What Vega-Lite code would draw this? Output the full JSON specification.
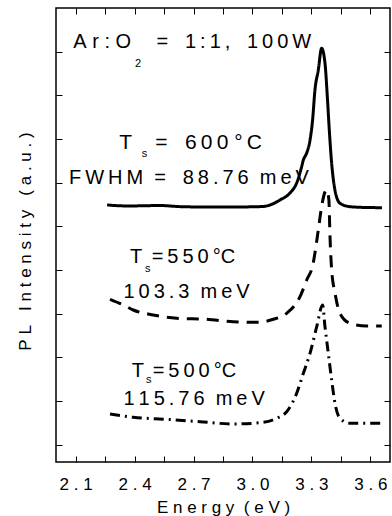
{
  "$schema": "https://vega.github.io/schema/vega-lite/v6.json",
  "width": 334,
  "height": 454,
  "autosize": {"type": "none"},
  "padding": {"left": 56, "top": 8, "right": 2, "bottom": 54},
  "background": "white",
  "config": {
    "font": "Liberation Sans",
    "view": {"stroke": "black", "strokeWidth": 1.5},
    "axis": {"domain": false, "grid": false, "tickColor": "black", "tickWidth": 1, "labelColor": "black", "titleColor": "black"}
  },
  "datasets": {
    "curves": [
      {"series": "600", "E": 2.26, "I": 5.49}, {"series": "600", "E": 2.32, "I": 5.47}, {"series": "600", "E": 2.377, "I": 5.465},
      {"series": "600", "E": 2.45, "I": 5.47}, {"series": "600", "E": 2.529, "I": 5.476}, {"series": "600", "E": 2.63, "I": 5.45},
      {"series": "600", "E": 2.733, "I": 5.442}, {"series": "600", "E": 2.84, "I": 5.44}, {"series": "600", "E": 2.936, "I": 5.442},
      {"series": "600", "E": 3.053, "I": 5.453}, {"series": "600", "E": 3.089, "I": 5.488}, {"series": "600", "E": 3.14, "I": 5.602},
      {"series": "600", "E": 3.191, "I": 5.763}, {"series": "600", "E": 3.225, "I": 5.992}, {"series": "600", "E": 3.25, "I": 6.358},
      {"series": "600", "E": 3.259, "I": 6.519}, {"series": "600", "E": 3.276, "I": 6.679}, {"series": "600", "E": 3.293, "I": 6.977},
      {"series": "600", "E": 3.306, "I": 7.435}, {"series": "600", "E": 3.318, "I": 8.122}, {"series": "600", "E": 3.335, "I": 8.58},
      {"series": "600", "E": 3.352, "I": 9.078}, {"series": "600", "E": 3.369, "I": 8.741}, {"series": "600", "E": 3.381, "I": 7.969},
      {"series": "600", "E": 3.391, "I": 7.206}, {"series": "600", "E": 3.403, "I": 6.444}, {"series": "600", "E": 3.42, "I": 5.826},
      {"series": "600", "E": 3.445, "I": 5.528}, {"series": "600", "E": 3.496, "I": 5.449}, {"series": "600", "E": 3.58, "I": 5.43},
      {"series": "600", "E": 3.659, "I": 5.426},

      {"series": "550", "E": 2.275, "I": 3.327}, {"series": "550", "E": 2.343, "I": 3.197}, {"series": "550", "E": 2.393, "I": 3.082},
      {"series": "550", "E": 2.495, "I": 2.968}, {"series": "550", "E": 2.614, "I": 2.893}, {"series": "550", "E": 2.767, "I": 2.869},
      {"series": "550", "E": 2.902, "I": 2.814}, {"series": "550", "E": 3.021, "I": 2.8}, {"series": "550", "E": 3.106, "I": 2.869},
      {"series": "550", "E": 3.174, "I": 3.007}, {"series": "550", "E": 3.242, "I": 3.387}, {"series": "550", "E": 3.276, "I": 3.77},
      {"series": "550", "E": 3.309, "I": 4.152}, {"series": "550", "E": 3.318, "I": 4.388}, {"series": "550", "E": 3.335, "I": 4.915},
      {"series": "550", "E": 3.352, "I": 5.449}, {"series": "550", "E": 3.369, "I": 5.786}, {"series": "550", "E": 3.379, "I": 5.831},
      {"series": "550", "E": 3.389, "I": 5.602}, {"series": "550", "E": 3.394, "I": 4.846}, {"series": "550", "E": 3.403, "I": 3.999},
      {"series": "550", "E": 3.42, "I": 3.472}, {"series": "550", "E": 3.445, "I": 3.007}, {"series": "550", "E": 3.496, "I": 2.778},
      {"series": "550", "E": 3.581, "I": 2.716}, {"series": "550", "E": 3.658, "I": 2.716},

      {"series": "500", "E": 2.275, "I": 0.7}, {"series": "500", "E": 2.393, "I": 0.624}, {"series": "500", "E": 2.563, "I": 0.578},
      {"series": "500", "E": 2.733, "I": 0.523}, {"series": "500", "E": 2.902, "I": 0.471}, {"series": "500", "E": 3.038, "I": 0.5},
      {"series": "500", "E": 3.123, "I": 0.601}, {"series": "500", "E": 3.174, "I": 0.752}, {"series": "500", "E": 3.225, "I": 1.174},
      {"series": "500", "E": 3.259, "I": 1.632}, {"series": "500", "E": 3.293, "I": 2.09}, {"series": "500", "E": 3.327, "I": 2.7},
      {"series": "500", "E": 3.357, "I": 3.197}, {"series": "500", "E": 3.369, "I": 2.7}, {"series": "500", "E": 3.386, "I": 2.09},
      {"series": "500", "E": 3.403, "I": 1.479}, {"series": "500", "E": 3.42, "I": 0.945}, {"series": "500", "E": 3.445, "I": 0.601},
      {"series": "500", "E": 3.496, "I": 0.487}, {"series": "500", "E": 3.658, "I": 0.487}
    ],
    "labels": [
      {"E": 2.088, "I": 9.078, "text": "A\u00a0r\u00a0:\u00a0O"},
      {"E": 2.512, "I": 9.078, "text": "=\u00a0\u00a0\u00a01\u2009:\u20091\u2009,\u00a0\u00a0\u00a01\u20090\u20090\u2009W"},
      {"E": 2.066, "I": 5.962, "text": "F\u2009W\u2009H\u2009M\u00a0\u00a0=\u00a0\u00a0\u00a08\u20098\u2009.\u20097\u20096\u00a0\u00a0m\u2009e\u2009V"},
      {"E": 2.377, "I": 4.152, "text": "T"},
      {"E": 2.487, "I": 4.152, "text": "=\u20095\u20095\u20090\u2009°C"},
      {"E": 2.343, "I": 3.35, "text": "1\u20090\u20093\u2009.\u20093\u00a0\u00a0m\u2009e\u2009V"},
      {"E": 2.385, "I": 1.554, "text": "T"},
      {"E": 2.492, "I": 1.554, "text": "=\u20095\u20090\u20090\u2009°C"},
      {"E": 2.343, "I": 0.906, "text": "1\u20091\u20095\u2009.\u20097\u20096\u00a0\u00a0m\u2009e\u2009V"}
    ],
    "biglabels": [
      {"E": 2.322, "I": 6.764, "text": "T"},
      {"E": 2.505, "I": 6.764, "text": "=\u00a0\u00a0\u00a06\u20090\u20090\u00a0°\u2009C"}
    ],
    "subs": [
      {"E": 2.402, "I": 8.656, "text": "2"},
      {"E": 2.436, "I": 6.594, "text": "s"},
      {"E": 2.453, "I": 3.96, "text": "s"},
      {"E": 2.458, "I": 1.403, "text": "s"}
    ]
  },
  "resolve": {"axis": {"x": "independent", "y": "independent"}},
  "layer": [
    {
      "data": {"name": "curves"},
      "mark": {"type": "line", "color": "black", "strokeWidth": 3, "interpolate": "monotone"},
      "encoding": {
        "x": {"field": "E", "type": "quantitative",
              "scale": {"domain": [2.0, 3.7], "nice": false, "zero": false},
              "axis": {"orient": "bottom", "values": [2.1, 2.25, 2.4, 2.55, 2.7, 2.85, 3.0, 3.15, 3.3, 3.45, 3.6],
                       "labelExpr": "round(datum.value*100)%30==0 ? replace(format(datum.value,'.1f'),'.','\u00a0.\u00a0') : ''",
                       "tickSize": -6, "labelPadding": 20, "labelFontSize": 17, "labelFlush": false,
                       "title": "E\u00a0n\u00a0e\u00a0r\u00a0g\u00a0y\u00a0\u00a0(\u00a0e\u00a0V\u00a0)", "titleFontSize": 17, "titleFontWeight": "normal",
                       "titleBaseline": "alphabetic", "titleY": 50}},
        "y": {"field": "I", "type": "quantitative",
              "scale": {"domain": [-0.4, 10], "nice": false, "zero": false},
              "axis": {"orient": "left", "values": [0, 1, 2, 3, 4, 5, 6, 7, 8, 9], "labels": false, "tickSize": -6,
                       "title": "P\u00a0L\u00a0\u00a0\u00a0I\u00a0n\u00a0t\u00a0e\u00a0n\u00a0s\u00a0i\u00a0t\u00a0y\u00a0\u00a0\u00a0(\u00a0a\u00a0.\u00a0u\u00a0.\u00a0)", "titleFontSize": 17, "titleFontWeight": "normal",
                       "titleBaseline": "middle", "titleX": -31, "titleY": 233}},
        "detail": {"field": "series"},
        "strokeDash": {"field": "series", "type": "nominal", "legend": null,
                       "scale": {"domain": ["600", "550", "500"], "range": [[1, 0], [12, 8], [10, 5, 2, 5]]}}
      }
    },
    {
      "data": {"name": "labels"},
      "mark": {"type": "text", "align": "left", "baseline": "alphabetic", "fontSize": 20, "color": "black"},
      "encoding": {
        "x": {"field": "E", "type": "quantitative",
              "axis": {"orient": "top", "values": [2.1, 2.25, 2.4, 2.55, 2.7, 2.85, 3.0, 3.15, 3.3, 3.45, 3.6],
                       "labels": false, "tickSize": -6, "title": null}},
        "y": {"field": "I", "type": "quantitative",
              "axis": {"orient": "right", "values": [0, 1, 2, 3, 4, 5, 6, 7, 8, 9], "labels": false, "tickSize": -6, "title": null}},
        "text": {"field": "text"}
      }
    },
    {
      "data": {"name": "biglabels"},
      "mark": {"type": "text", "align": "left", "baseline": "alphabetic", "fontSize": 21, "color": "black"},
      "encoding": {
        "x": {"field": "E", "type": "quantitative", "axis": null},
        "y": {"field": "I", "type": "quantitative", "axis": null},
        "text": {"field": "text"}
      }
    },
    {
      "data": {"name": "subs"},
      "mark": {"type": "text", "align": "left", "baseline": "alphabetic", "fontSize": 11, "color": "black"},
      "encoding": {
        "x": {"field": "E", "type": "quantitative", "axis": null},
        "y": {"field": "I", "type": "quantitative", "axis": null},
        "text": {"field": "text"}
      }
    }
  ]
}
